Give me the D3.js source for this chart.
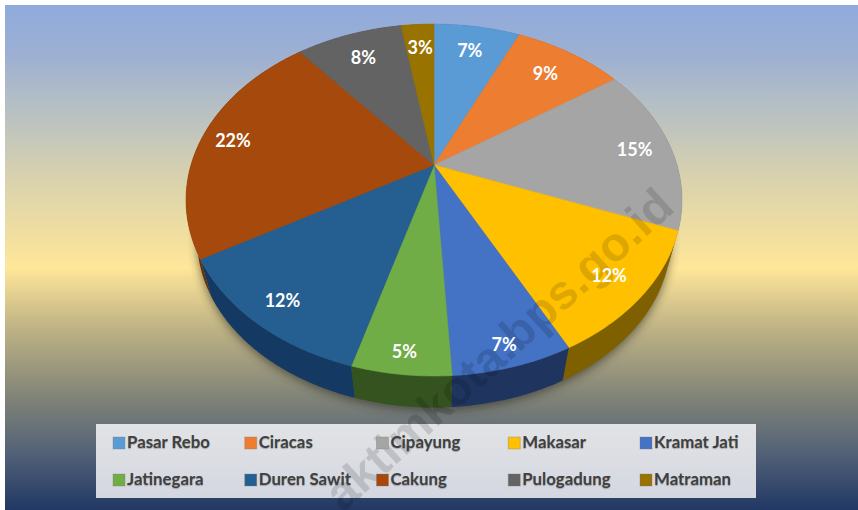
<!DOCTYPE html>
<html>
<head>
<meta charset="utf-8">
<script src="https://cdn.jsdelivr.net/npm/d3@7"></script>
<style>
  html, body { margin: 0; padding: 0; background: #fff; }
  text { font-family: Lato, "Open Sans", sans-serif; font-weight: 700; }
</style>
</head>
<body>
<div id="viz"></div>
<script>
const WIDTH = 858, HEIGHT = 510;

const categories = ["Pasar Rebo", "Ciracas", "Cipayung", "Makasar", "Kramat Jati", "Jatinegara", "Duren Sawit", "Cakung", "Pulogadung", "Matraman"];
const shares = [6.8, 8.7, 15.4, 11.6, 6.6, 5.4, 12.2, 22.4, 8.4, 2.6];
const labels = ["7%", "9%", "15%", "12%", "7%", "5%", "12%", "22%", "8%", "3%"];
const topColors = ["#5b9bd5", "#ed7d31", "#a5a5a5", "#ffc000", "#4472c4", "#70ad47", "#255e91", "#a5490c", "#636363", "#997300"];
const sideColors = ["#2e5f8c", "#8f4a1b", "#636363", "#7f6000", "#1f3560", "#35531f", "#143a63", "#6b2f08", "#3f3f3f", "#5f4800"];
const labelRadius = [0.83, 0.82, 0.85, 0.84, 0.885, 0.89, 0.855, 0.87, 0.83, 0.84];
const watermark = "aktimkota.bps.go.id";

const svg = d3.select("#viz").append("svg")
  .attr("width", WIDTH)
  .attr("height", HEIGHT)
  .style("display", "block");

const defs = svg.append("defs");

// background bands
const bg = defs.append("linearGradient").attr("id", "bg").attr("x1", 0).attr("x2", 0).attr("y1", 0).attr("y2", 1);
[[0, "#8faadc"], [0.1, "#9db0d2"], [0.2, "#b5bfc4"], [0.36, "#dcd4ab"], [0.52, "#ffe699"], [0.64, "#bfb385"], [0.78, "#7f8277"], [0.88, "#566478"], [1, "#203864"]]
  .forEach(d => bg.append("stop").attr("offset", d[0]).attr("stop-color", d[1]));

const legendFill = defs.append("linearGradient").attr("id", "legendFill").attr("x1", 0).attr("x2", 0).attr("y1", 0).attr("y2", 1);
legendFill.append("stop").attr("offset", 0).attr("stop-color", "#e1e3e5");
legendFill.append("stop").attr("offset", 1).attr("stop-color", "#d4d7e0");

defs.append("filter").attr("id", "blur")
  .attr("x", "-10%").attr("y", "-10%").attr("width", "120%").attr("height", "120%")
  .append("feGaussianBlur").attr("stdDeviation", 5);

svg.append("rect")
  .attr("x", 5).attr("y", 5)
  .attr("width", WIDTH - 5).attr("height", HEIGHT - 5)
  .attr("fill", "url(#bg)");

// pie in perspective: a circle of unit radius goes through this projection
const cx = 434, cy = 165, rimA = 243, rimB = 169, tilt = 0.199;
const wallScale = 0.955, wallDrop = 41;

function rim(angle, scale = 1, drop = 0) {
  const u = Math.sin(angle), v = -Math.cos(angle);
  const w = 1 - tilt * v;
  return [cx + scale * rimA * u / w, cy + scale * rimB * v / w + drop];
}

const arcs = d3.pie().sort(null).value(d => d)(shares);
const line = d3.line();

function sweep(start, end) {
  const n = Math.max(2, Math.ceil((end - start) / 0.01));
  return d3.range(n + 1).map(i => start + (end - start) * i / n);
}

// soft shadow under the wall
const full = sweep(0, 2 * Math.PI);
svg.append("path")
  .attr("d", line(full.map(a => rim(a, wallScale, wallDrop + 3))) + "Z")
  .attr("fill", "#2b2a20")
  .attr("opacity", 0.6)
  .attr("filter", "url(#blur)");

// walls, back to front
const wallOrder = d3.range(arcs.length).sort((a, b) =>
  Math.abs(Math.PI - (arcs[b].startAngle + arcs[b].endAngle) / 2) - Math.abs(Math.PI - (arcs[a].startAngle + arcs[a].endAngle) / 2));

svg.append("g").selectAll("path")
  .data(wallOrder)
  .join("path")
  .attr("d", i => {
    const steps = sweep(arcs[i].startAngle, arcs[i].endAngle);
    const pts = steps.map(a => rim(a)).concat(steps.slice().reverse().map(a => rim(a, wallScale, wallDrop)));
    return line(pts) + "Z";
  })
  .attr("fill", i => sideColors[i]);

// top face
svg.append("g").selectAll("path")
  .data(arcs)
  .join("path")
  .attr("d", d => line([[cx, cy]].concat(sweep(d.startAngle, d.endAngle).map(a => rim(a)))) + "Z")
  .attr("fill", (d, i) => topColors[i])
  .attr("stroke", (d, i) => topColors[i])
  .attr("stroke-width", 0.6);

// legend box goes under the watermark, its entries over it
const legendX = d3.scalePoint().domain(d3.range(5)).range([113, 640]);
const legendY = d3.scalePoint().domain([0, 1]).range([443, 480]);

svg.append("rect")
  .attr("x", 96).attr("y", 424)
  .attr("width", 660).attr("height", 74)
  .attr("fill", "url(#legendFill)");

svg.append("text")
  .attr("transform", "translate(343,513) rotate(-42.3)")
  .style("font-family", "'Liberation Sans', sans-serif")
  .attr("font-size", 48)
  .attr("fill", "#000")
  .attr("opacity", 0.13)
  .text(watermark);

// data labels, at a fraction of the radius along each slice
svg.append("g").selectAll("text")
  .data(arcs)
  .join("text")
  .attr("x", (d, i) => rim((d.startAngle + d.endAngle) / 2, labelRadius[i])[0])
  .attr("y", (d, i) => rim((d.startAngle + d.endAngle) / 2, labelRadius[i])[1])
  .attr("text-anchor", "middle")
  .attr("dominant-baseline", "central")
  .attr("font-size", 18)
  .attr("fill", "#fff")
  .text((d, i) => labels[i]);

const legend = svg.append("g").selectAll("g")
  .data(categories)
  .join("g")
  .attr("transform", (d, i) => `translate(${legendX(i % 5)},${legendY(Math.floor(i / 5))})`);

legend.append("rect")
  .attr("x", 0).attr("y", -6)
  .attr("width", 12).attr("height", 12)
  .attr("fill", (d, i) => topColors[i])
  .attr("stroke", "#777")
  .attr("stroke-opacity", 0.35)
  .attr("stroke-width", 1);

legend.append("text")
  .attr("x", 14)
  .attr("y", -1.5)
  .attr("dominant-baseline", "central")
  .attr("font-size", 16.8)
  .attr("fill", "#404040")
  .style("text-shadow", "0 1px 1px rgba(0,0,0,0.25)")
  .text(d => d);
</script>
</body>
</html>
